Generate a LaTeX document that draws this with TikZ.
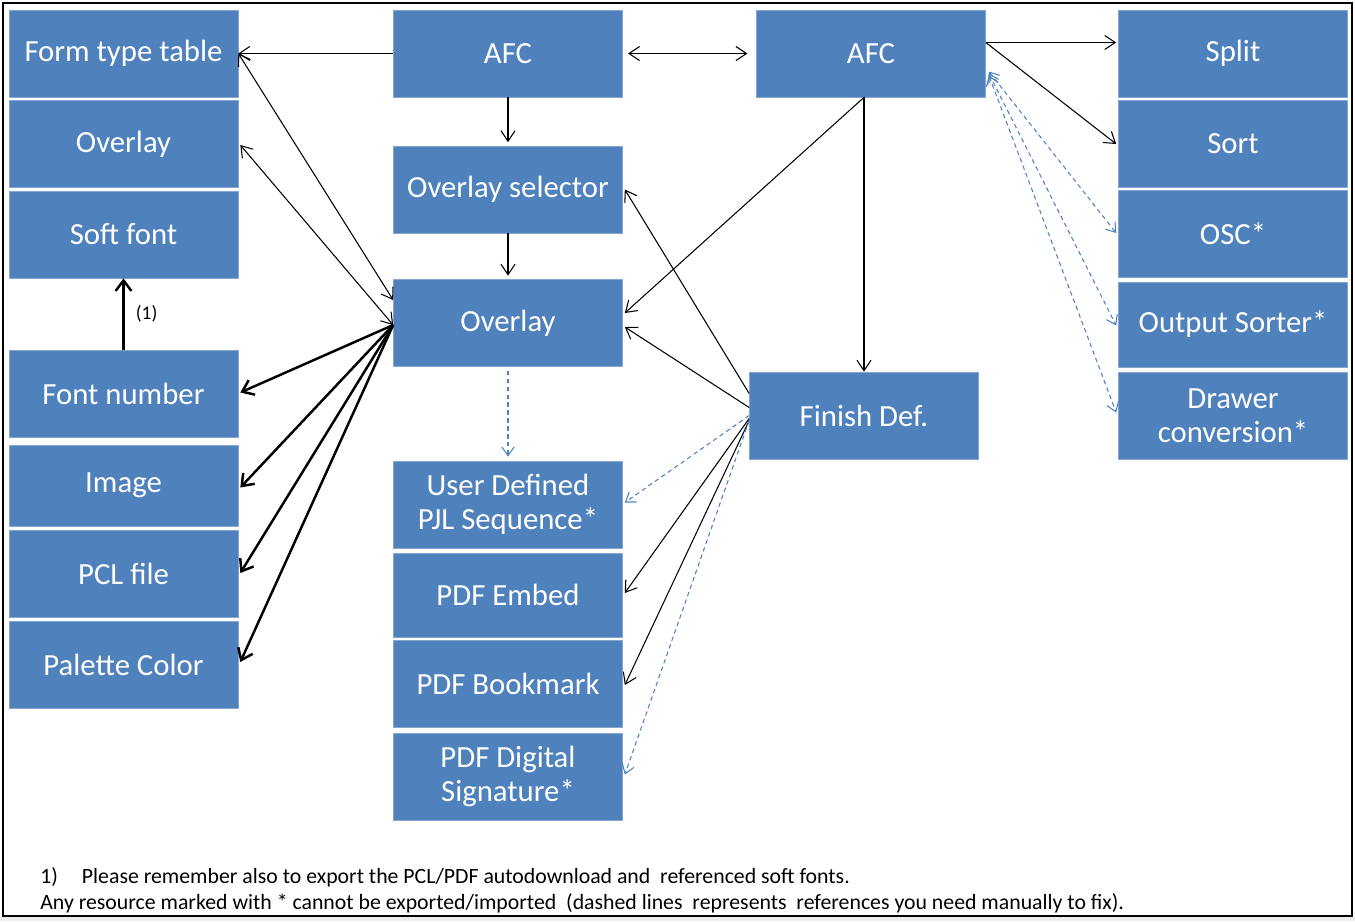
\documentclass[tikz,border=0pt]{standalone}
\usepackage{fontspec}
\setmainfont{Carlito}
\usetikzlibrary{arrows.meta,calc}
\definecolor{boxblue}{HTML}{4F81BD}
\begin{document}
\begin{tikzpicture}[x=0.02cm, y=-0.02cm,
        box/.style={fill=boxblue, draw=boxblue!70!white, line width=0.4pt, text=white,
            minimum width=4.58cm, minimum height=1.74cm, inner sep=0pt, align=center,
            font=\fontsize{17.5}{19.5}\selectfont},
        link/.style={line width=0.6pt, >={Straight Barb[length=6pt,width=8pt]}},
        boldlink/.style={line width=1.4pt, >={Straight Barb[length=6pt,width=9pt]}},
        dashlink/.style={line width=0.6pt, boxblue, dash pattern=on 2.5pt off 2pt,
            >={Straight Barb[length=5pt,width=7pt]}}]
        \useasboundingbox (0, 0) rectangle (1355, 921);
        \fill[gray!15] (0, 917) rectangle (1355, 921);
        \draw[line width=0.9pt] (3, 3) rectangle (1352, 916);

        \node[box] (ftt) at (123.5, 53.5) {Form type table};
        \node[box] (ovl) at (123.5, 144) {Overlay};
        \node[box] (sft) at (123.5, 234.5) {Soft font};
        \node[box] (fnum) at (123.5, 393.5) {Font number};
        \node[box, minimum height=1.62cm] (img) at (123.5, 485.5) {Image};
        \node[box] (pcl) at (123.5, 574) {PCL file};
        \node[box] (pal) at (123.5, 665) {Palette Color};

        \node[box] (afca) at (508, 53.5) {AFC};
        \node[box] (osel) at (508, 189.5) {Overlay selector};
        \node[box] (ovc) at (508, 323) {Overlay};
        \node[box] (pjl) at (508, 504.5) {User Defined\\PJL Sequence*};
        \node[box, minimum height=1.68cm] (emb) at (508, 595) {PDF Embed};
        \node[box] (bkm) at (508, 684) {PDF Bookmark};
        \node[box] (sig) at (508, 776.5) {PDF Digital\\Signature*};

        \node[box] (afcb) at (871, 53.5) {AFC};
        \node[box] (fin) at (864, 415.5) {Finish Def.};

        \node[box] (split) at (1233, 53.5) {Split};
        \node[box] (sort) at (1233, 144) {Sort};
        \node[box] (osc) at (1233, 234) {OSC*};
        \node[box, minimum height=1.7cm] (osort) at (1233, 324.5) {Output Sorter*};
        \node[box] (drw) at (1233, 415.5) {Drawer\\conversion*};

        \draw[link, ->] (afca.west) -- (ftt.east);
        \draw[link, <->, shorten <=3pt, shorten >=5pt] (afca.east) -- (afcb.west);
        \draw[link, ->, shorten >=2pt] (afca.south) -- (osel.north);
        \draw[link, ->, shorten >=2pt] (osel.south) -- (ovc.north);
        \draw[link, <->] (ftt.east) -- ($(ovc.west)+(0, -23)$);
        \draw[link, <->] ($(ovl.east)+(2, 1)$) -- ($(ovc.west)+(0, 2)$);

        \draw[boldlink, ->] (fnum.north) -- (sft.south) node[midway, right=3pt, font=\fontsize{11}{13}\selectfont] (fn1) {(1)};
        \draw[boldlink, ->] ($(ovc.west)+(0, 2)$) -- ($(fnum.east)+(2, -1)$);
        \draw[boldlink, ->] ($(ovc.west)+(0, 2)$) -- ($(img.east)+(2, 2)$);
        \draw[boldlink, ->] ($(ovc.west)+(0, 2)$) -- ($(pcl.east)+(2, -1)$);
        \draw[boldlink, ->] ($(ovc.west)+(0, 2)$) -- ($(pal.east)+(2, -3)$);

        \draw[link, ->] ($(afcb.east)+(0, -11)$) -- ($(split.west)+(-2, -11)$);
        \draw[link, ->] ($(afcb.east)+(0, -11)$) -- ($(sort.west)+(-2, 0)$);
        \draw[dashlink, <->] ($(afcb.east)+(3, 18)$) -- ($(osc.west)+(-2, -1)$);
        \draw[dashlink, <->] ($(afcb.east)+(3, 20)$) -- ($(osort.west)+(-2, 1)$);
        \draw[dashlink, <->] ($(afcb.east)+(3, 22)$) -- ($(drw.west)+(-2, -3)$);

        \draw[link, ->] (fin.north |- afcb.south) -- (fin.north);
        \draw[link, ->] (fin.north |- afcb.south) -- ($(ovc.east)+(2, -10)$);
        \draw[link, ->] ($(fin.west)+(0, -22)$) -- ($(osel.east)+(2, 0)$);
        \draw[link, ->] ($(fin.west)+(0, -8)$) -- ($(ovc.east)+(2, 4)$);
        \draw[dashlink, ->] ($(fin.west)+(0, 0)$) -- ($(pjl.east)+(2, -2)$);
        \draw[link, ->] ($(fin.west)+(0, 3)$) -- ($(emb.east)+(2, -2)$);
        \draw[link, ->] ($(fin.west)+(0, 5)$) -- ($(bkm.east)+(2, 1)$);
        \draw[dashlink, ->] ($(fin.west)+(0, 5)$) -- ($(sig.east)+(2, -2)$);
        \draw[dashlink, ->] ($(ovc.south)+(0, 4)$) -- ($(pjl.north)+(0, -4)$);

        \node[anchor=base west, inner sep=0pt, font=\fontsize{12.4}{14}\selectfont] (note1) at (40, 883)
            {1)\hspace{1.1em}Please remember also to export the PCL/PDF autodownload and\ \ referenced soft fonts.};
        \node[anchor=base west, inner sep=0pt, font=\fontsize{12.4}{14}\selectfont] (note2) at (40, 909)
            {Any resource marked with * cannot be exported/imported\ \ (dashed lines\ \ represents\ \ references you need manually to fix).};
    \end{tikzpicture}
\end{document}
